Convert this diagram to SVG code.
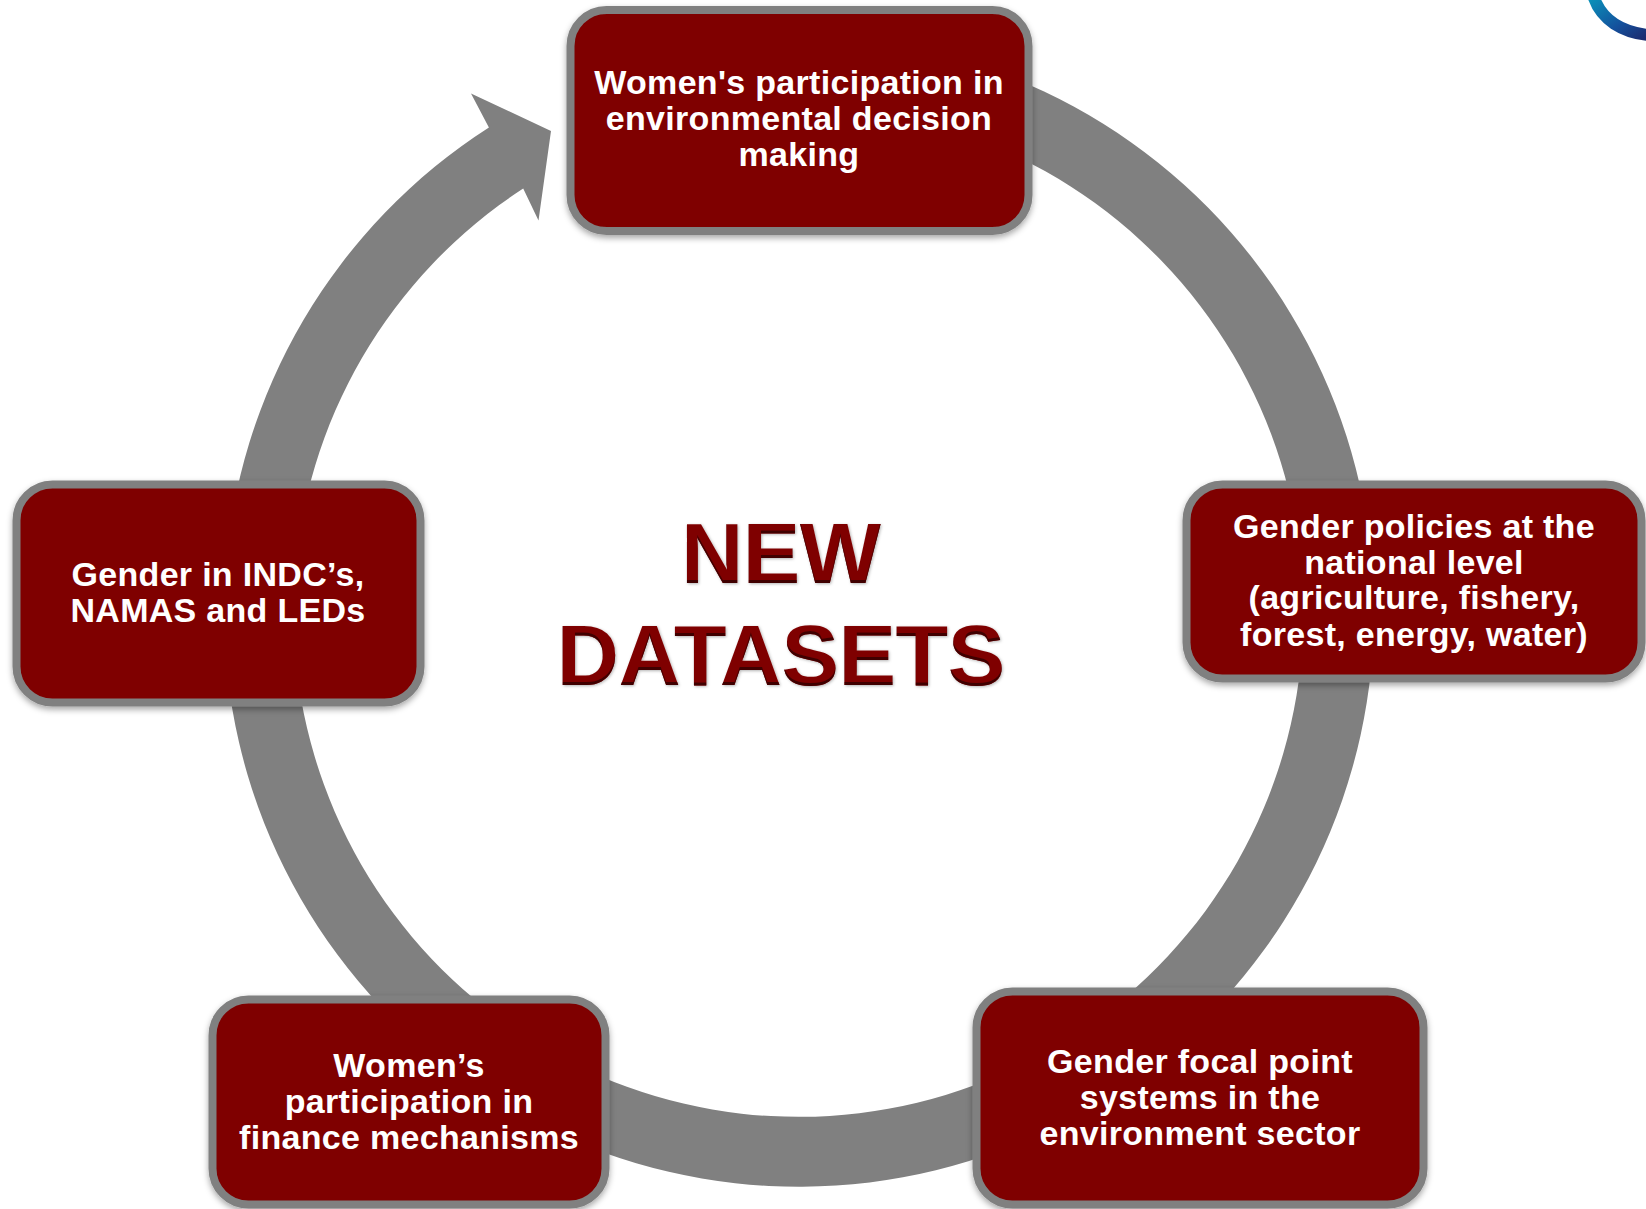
<svg xmlns="http://www.w3.org/2000/svg" width="1646" height="1209" viewBox="0 0 1646 1209">
  <style>
    .box { fill: #7f0000; stroke: #808080; stroke-width: 8; filter: url(#shadow); }
    .label { font-family: "Liberation Sans", Arial, sans-serif; font-weight: 700; font-size: 34px; fill: #ffffff; text-anchor: middle; letter-spacing: 0.3px; }
    .title { font-family: "Liberation Sans", Arial, sans-serif; font-weight: 700; font-size: 85.5px; fill: #7f0000; text-anchor: middle; filter: url(#bevel); }
  </style>
  <defs>
    <filter id="shadow" x="-5%" y="-5%" width="110%" height="115%">
      <feDropShadow dx="0" dy="3" stdDeviation="3" flood-color="#000000" flood-opacity="0.35"/>
    </filter>
    <filter id="bevel" x="-5%" y="-10%" width="110%" height="125%">
      <feOffset in="SourceAlpha" dy="-3" result="off"/>
      <feComposite in="SourceAlpha" in2="off" operator="out" result="edge"/>
      <feFlood flood-color="#3f0000"/>
      <feComposite in2="edge" operator="in" result="dark"/>
      <feGaussianBlur in="SourceAlpha" stdDeviation="1.5" result="b"/>
      <feOffset in="b" dx="1" dy="1" result="bo"/>
      <feFlood flood-color="#000000" flood-opacity="0.3"/>
      <feComposite in2="bo" operator="in" result="sh"/>
      <feMerge><feMergeNode in="sh"/><feMergeNode in="SourceGraphic"/><feMergeNode in="dark"/></feMerge>
    </filter>
    <linearGradient id="logo" x1="0" y1="0" x2="1" y2="1">
      <stop offset="0" stop-color="#0a8fb8"/>
      <stop offset="0.6" stop-color="#14509c"/>
      <stop offset="1" stop-color="#1c2c70"/>
    </linearGradient>
  </defs>
  <rect width="1646" height="1209" fill="#ffffff"/>
  <path id="logo-arc" d="M1594,-2 C1602,20 1622,32 1648,35" fill="none" stroke="url(#logo)" stroke-width="12"/>
  <g id="connectors">
    <path d="M850,39 A575,575 0 1 1 488.900,127.500 L471,93.500 L551,131 L538.500,220.500 L523.200,188.500 A505,505 0 1 0 850,109.500 Z" fill="#808080"/>
  </g>
  <g id="node-decision">
    <rect class="box" x="570.500" y="10" width="458" height="221" rx="36"/>
    <text class="label" x="799" y="94">Women's participation in</text>
    <text class="label" x="799" y="130">environmental decision</text>
    <text class="label" x="799" y="166">making</text>
  </g>
  <g id="node-policies">
    <rect class="box" x="1186.500" y="484.500" width="455" height="194" rx="36"/>
    <text class="label" x="1414" y="538">Gender policies at the</text>
    <text class="label" x="1414" y="574">national level</text>
    <text class="label" x="1414" y="609">(agriculture, fishery,</text>
    <text class="label" x="1414" y="646">forest, energy, water)</text>
  </g>
  <g id="node-focal">
    <rect class="box" x="976.500" y="991.500" width="447" height="213" rx="36"/>
    <text class="label" x="1200" y="1073">Gender focal point</text>
    <text class="label" x="1200" y="1109">systems in the</text>
    <text class="label" x="1200" y="1145">environment sector</text>
  </g>
  <g id="node-finance">
    <rect class="box" x="212.500" y="999.500" width="393" height="205" rx="36"/>
    <text class="label" x="409" y="1077">Women’s</text>
    <text class="label" x="409" y="1113">participation in</text>
    <text class="label" x="409" y="1149">finance mechanisms</text>
  </g>
  <g id="node-indc">
    <rect class="box" x="16.500" y="484.500" width="404" height="218" rx="36"/>
    <text class="label" x="218" y="586">Gender in INDC’s,</text>
    <text class="label" x="218" y="622">NAMAS and LEDs</text>
  </g>
  <g id="center-title">
    <text class="title" x="781" y="583">NEW</text>
    <text class="title" x="781" y="685">DATASETS</text>
  </g>
</svg>
